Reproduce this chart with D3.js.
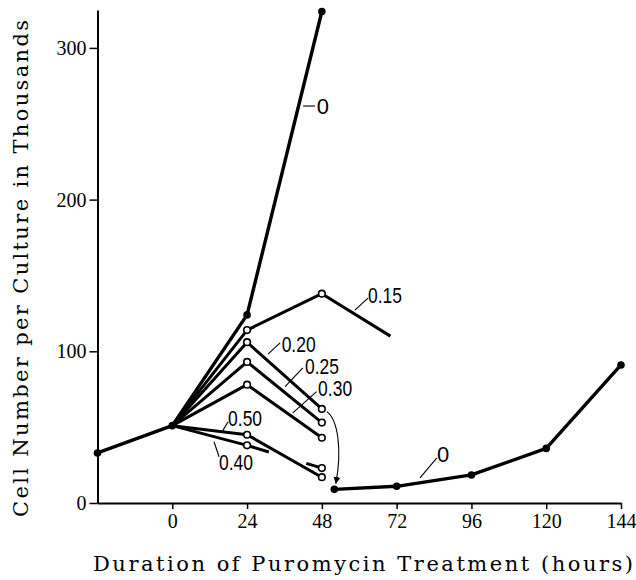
<!DOCTYPE html>
<html><head><meta charset="utf-8">
<script src="https://cdn.jsdelivr.net/npm/d3@7"></script>
<style>body{margin:0;background:#fff}</style>
</head><body><svg id="c" width="636" height="580"></svg>
<script>
// ---- data ----
const xTicks = [0, 24, 48, 72, 96, 120, 144];
const yTicks = [0, 100, 200, 300];
const controlPreHours = [-24, 0, 24, 48];
const controlPreValues = [33, 51, 124, 324];
const controlPostHours = [52, 72, 96, 120, 144];
const controlPostValues = [9, 11, 18.5, 36, 91];
const doseLabels = ["0.15", "0.20", "0.25", "0.30", "0.50", "0.40"];
const doseHours = [
  [0, 24, 48, 70],
  [0, 24, 48],
  [0, 24, 48],
  [0, 24, 48],
  [0, 24, 48],
  [0, 24, 31, null, 43, 48]
];
const doseValues = [
  [51, 114, 138, 110],
  [51, 106, 62],
  [51, 93, 53],
  [51, 78, 43],
  [51, 45, 17],
  [51, 38, 33.6, null, 26.1, 23]
];
const doseMarkerHours = [24, 48];

// annotations in data units (hours, thousands)
const annotations = [
  {text: "0",    at: [48.3, 261.7], anchor: "middle", leader: [[42.0, 261.7], [45.8, 261.7]]},
  {text: "0.15", at: [62.8, 137.1], anchor: "start",  leader: [[58.6, 127.2], [62.8, 135.1]]},
  {text: "0.20", at: [35.1, 104.8], anchor: "start",  leader: [[30.7, 98.2], [34.6, 105.5]]},
  {text: "0.25", at: [42.6, 90.3],  anchor: "start",  leader: [[36.2, 76.7], [41.9, 89.0]]},
  {text: "0.30", at: [46.8, 75.8],  anchor: "start",  leader: [[38.6, 59.3], [46.3, 73.4]]},
  {text: "0.50", at: [17.9, 56.0],  anchor: "start",  leader: [[16.2, 47.7], [17.9, 53.6]]},
  {text: "0.40", at: [15.0, 27.2],  anchor: "start",  leader: [[13.4, 40.4], [15.0, 30.5]]},
  {text: "0",    at: [86.9, 32.3],  anchor: "middle", leader: [[79.5, 16.5], [84.9, 29.7]]}
];
const arrowPath = [[49.6, 60.2], [53.2, 54.7], [54.5, 34.9], [52.5, 13.0]];

// ---- chart ----
const svg = d3.select("#c");
const x = d3.scaleLinear().domain([-24, 144]).range([97.5, 621]);
const y = d3.scaleLinear().domain([0, 325]).range([503, 10]);

const line = d3.line()
  .defined(d => d[0] != null && d[1] != null)
  .x(d => x(d[0])).y(d => y(d[1]));

// axes
const xAxis = svg.append("g").attr("transform", `translate(0,${y(0)})`)
  .call(d3.axisBottom(x).tickValues(xTicks).tickSize(6).tickSizeOuter(0).tickPadding(5));
const yAxis = svg.append("g").attr("transform", `translate(${x(-24)},0)`)
  .call(d3.axisLeft(y).tickValues(yTicks).tickSize(8).tickSizeOuter(0).tickPadding(3));
[xAxis, yAxis].forEach(g => {
  g.select(".domain").attr("stroke", "#000").attr("stroke-width", 2);
  g.selectAll(".tick line").attr("stroke", "#000").attr("stroke-width", 1.5);
  g.selectAll(".tick text").attr("fill", "#000")
    .style("font-family", "'Liberation Serif', serif").style("font-size", "20px");
});

// axis titles
svg.append("text")
  .attr("x", 93).attr("y", 571)
  .attr("textLength", 540).attr("lengthAdjust", "spacing")
  .style("font-family", "'DejaVu Serif', serif").style("font-size", "21px")
  .text("Duration of Puromycin Treatment (hours)");
svg.append("text")
  .attr("transform", "translate(28,517) rotate(-90)")
  .attr("textLength", 497).attr("lengthAdjust", "spacing")
  .style("font-family", "'DejaVu Serif', serif").style("font-size", "21px")
  .text("Cell Number per Culture in Thousands");

// series
const zip = (hs, vs) => hs.map((h, i) => [h, vs[i]]);
const treated = doseLabels.map((lab, i) => ({label: lab, pts: zip(doseHours[i], doseValues[i])}));

treated.forEach(s => {
  svg.append("path").attr("d", line(s.pts))
    .attr("fill", "none").attr("stroke", "#000").attr("stroke-width", 3)
    .attr("stroke-linejoin", "round");
});
const ctrlPre = zip(controlPreHours, controlPreValues);
const ctrlPost = zip(controlPostHours, controlPostValues);
[ctrlPre, ctrlPost].forEach(pts => {
  svg.append("path").attr("d", line(pts))
    .attr("fill", "none").attr("stroke", "#000").attr("stroke-width", 3.4)
    .attr("stroke-linejoin", "round");
});

// markers
treated.forEach(s => {
  s.pts.filter(p => doseMarkerHours.includes(p[0])).forEach(p => {
    svg.append("circle").attr("cx", x(p[0])).attr("cy", y(p[1])).attr("r", 3.3)
      .attr("fill", "#fff").attr("stroke", "#000").attr("stroke-width", 1.6);
  });
});
[...ctrlPre, ...ctrlPost].forEach(p => {
  svg.append("circle").attr("cx", x(p[0])).attr("cy", y(p[1])).attr("r", 3.8).attr("fill", "#000");
});

// arrow
svg.append("defs").append("marker")
  .attr("id", "ah").attr("viewBox", "0 0 10 10").attr("refX", 9).attr("refY", 5)
  .attr("markerWidth", 7).attr("markerHeight", 14).attr("markerUnits", "userSpaceOnUse")
  .attr("orient", "auto")
  .append("path").attr("d", "M0,0 L10,5 L0,10 Z").attr("fill", "#000");
const ap = arrowPath.map(p => [x(p[0]), y(p[1])]);
svg.append("path")
  .attr("d", `M${ap[0]} C${ap[1]} ${ap[2]} ${ap[3]}`)
  .attr("fill", "none").attr("stroke", "#000").attr("stroke-width", 1.1)
  .attr("marker-end", "url(#ah)");

// annotations
annotations.forEach(a => {
  svg.append("line")
    .attr("x1", x(a.leader[0][0])).attr("y1", y(a.leader[0][1]))
    .attr("x2", x(a.leader[1][0])).attr("y2", y(a.leader[1][1]))
    .attr("stroke", "#000").attr("stroke-width", 1.1);
  const t = svg.append("text")
    .attr("x", x(a.at[0])).attr("y", y(a.at[1])).attr("dy", "0.36em")
    .attr("text-anchor", a.anchor)
    .style("font-family", "'Liberation Sans', Arial, sans-serif").style("font-size", "22px")
    .text(a.text);
  if (a.text.length > 1) t.attr("textLength", 34).attr("lengthAdjust", "spacingAndGlyphs");
});
</script></body></html>
